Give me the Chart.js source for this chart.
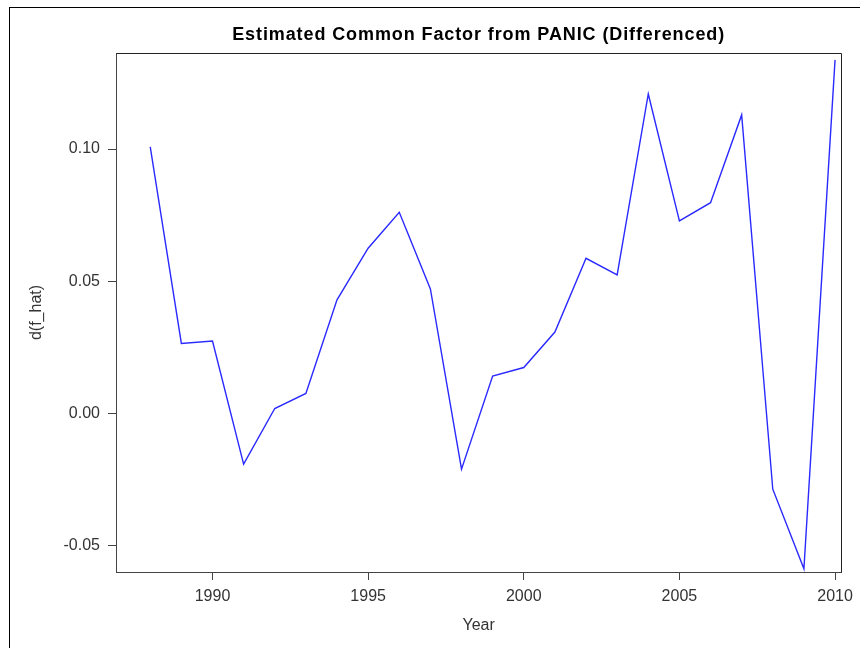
<!DOCTYPE html>
<html>
<head>
<meta charset="utf-8">
<script src="https://cdn.jsdelivr.net/npm/chart.js@4"></script>
<style>
  html, body { margin: 0; padding: 0; background: #fff; }
  #wrap { position: relative; width: 860px; height: 648px; }
  #frame { position: absolute; left: 9px; top: 7px; right: -5px; bottom: -5px; border-left: 1.5px solid #000; border-top: 1.5px solid #000; pointer-events: none; }
  canvas { position: absolute; left: 0; top: 0; }
</style>
</head>
<body>
<div id="wrap">
  <canvas id="chart" width="860" height="648"></canvas>
  <div id="frame"></div>
</div>
<script>
// data
const years = [1988, 1989, 1990, 1991, 1992, 1993, 1994, 1995, 1996, 1997, 1998,
               1999, 2000, 2001, 2002, 2003, 2004, 2005, 2006, 2007, 2008, 2009, 2010];
const dfHat = [0.1008, 0.0265, 0.0274, -0.0191, 0.0019, 0.0076, 0.0430, 0.0625, 0.0761, 0.0471, -0.0210,
               0.0142, 0.0174, 0.0308, 0.0587, 0.0524, 0.1208, 0.0728, 0.0797, 0.1129, -0.0286, -0.0587, 0.1337];
const xTicks = [1990, 1995, 2000, 2005, 2010];
const yTicks = [-0.05, 0.00, 0.05, 0.10];
const chartTitle = 'Estimated Common Factor from PANIC (Differenced)';

const FONT = 'Arial, "Liberation Sans", Helvetica, sans-serif';

// title centred over the plot area (SAS style), box on top/right of the plot
const sasFrame = {
    id: 'sasFrame',
    afterDraw(chart) {
        const { ctx, chartArea: a } = chart;
        ctx.save();
        ctx.strokeStyle = '#222';
        ctx.lineWidth = 1;
        ctx.beginPath();
        ctx.moveTo(Math.round(a.left) + 0.5, Math.round(a.top) + 0.5);
        ctx.lineTo(Math.round(a.right) + 0.5, Math.round(a.top) + 0.5);
        ctx.lineTo(Math.round(a.right) + 0.5, Math.round(a.bottom) + 0.5);
        ctx.stroke();

        ctx.fillStyle = '#000';
        ctx.font = 'bold 18px ' + FONT;
        ctx.letterSpacing = '0.9px';
        ctx.textAlign = 'center';
        ctx.textBaseline = 'middle';
        ctx.fillText(chartTitle, (a.left + a.right) / 2, 35);
        ctx.restore();
    }
};

new Chart(document.getElementById('chart').getContext('2d'), {
    type: 'line',
    data: {
        datasets: [{
            label: 'd(f_hat)',
            data: years.map((y, i) => ({ x: y, y: dfHat[i] })),
            borderColor: '#2a2aff',
            borderWidth: 1.4,
            pointRadius: 0,
            tension: 0,
            fill: false,
        }],
    },
    options: {
        responsive: false,
        animation: false,
        layout: { padding: { left: 0, right: 18, top: 53, bottom: 0 } },
        scales: {
            x: {
                type: 'linear',
                min: 1986.9,
                max: 2010.2,
                afterBuildTicks: (s) => { s.ticks = xTicks.map(v => ({ value: v })); },
                afterFit: (s) => { s.height = 76; },
                ticks: {
                    callback: (v) => String(v),
                    color: '#333',
                    padding: 7,
                    maxRotation: 0,
                    font: { family: FONT, size: 16 },
                },
                grid: { display: true, drawOnChartArea: false, drawTicks: true, tickLength: 8, color: '#444', tickWidth: 1 },
                border: { display: true, color: '#444', width: 1 },
                title: { display: true, text: 'Year', color: '#333', font: { family: FONT, size: 16 }, padding: { top: 0, bottom: 13 } },
            },
            y: {
                type: 'linear',
                min: -0.0599,
                max: 0.1363,
                afterBuildTicks: (s) => { s.ticks = yTicks.map(v => ({ value: v })); },
                afterFit: (s) => { s.width = 116; },
                ticks: {
                    callback: (v) => v.toFixed(2),
                    color: '#333',
                    padding: 8,
                    font: { family: FONT, size: 16 },
                },
                grid: { display: true, drawOnChartArea: false, drawTicks: true, tickLength: 8, color: '#444', tickWidth: 1 },
                border: { display: true, color: '#444', width: 1 },
                title: { display: true, text: 'd(f_hat)', color: '#333', font: { family: FONT, size: 16 }, padding: { top: 27, bottom: 0 } },
            },
        },
        plugins: {
            legend: { display: false },
            tooltip: { enabled: false },
            title: { display: false },
        },
    },
    plugins: [sasFrame],
});
</script>
</body>
</html>
